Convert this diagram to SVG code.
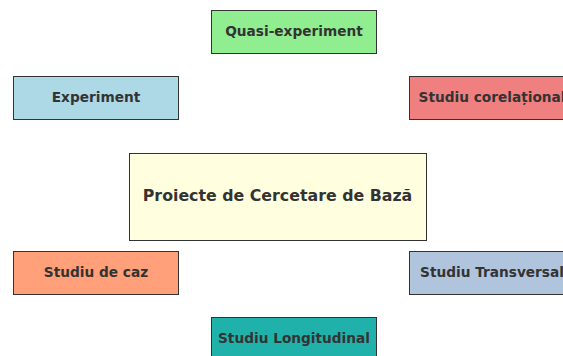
<svg xmlns="http://www.w3.org/2000/svg" width="563" height="356" viewBox="0 0 563 356">
<style>
.box{stroke:#333;stroke-width:1}
.lbl{font-family:"DejaVu Sans",sans-serif;font-weight:bold;font-size:13.7px;fill:#333;text-anchor:middle;dominant-baseline:central}
.main{font-size:15.8px}
</style>
<rect width="563" height="356" fill="#fff"/>
<g id="connectors"></g>
<g id="center"><rect class="box" x="129.5" y="153.5" width="297" height="87" fill="#ffffe0"/><text class="lbl main" x="277.5" y="195">Proiecte de Cercetare de Bază</text></g>
<g id="quasi"><rect class="box" x="211.5" y="10.5" width="165" height="43" fill="#90ee90"/><text class="lbl" x="294" y="31">Quasi-experiment</text></g>
<g id="experiment"><rect class="box" x="13.5" y="76.5" width="165" height="43" fill="#add8e6"/><text class="lbl" x="96" y="97">Experiment</text></g>
<g id="corelational"><rect class="box" x="409.5" y="76.5" width="165" height="43" fill="#f08080"/><text class="lbl" x="492" y="97">Studiu corelațional</text></g>
<g id="caz"><rect class="box" x="13.5" y="251.5" width="165" height="43" fill="#ffa07a"/><text class="lbl" x="96" y="272">Studiu de caz</text></g>
<g id="transversal"><rect class="box" x="409.5" y="251.5" width="165" height="43" fill="#b0c4de"/><text class="lbl" x="492" y="272">Studiu Transversal</text></g>
<g id="longitudinal"><rect class="box" x="211.5" y="317.5" width="165" height="43" fill="#20b2aa"/><text class="lbl" x="294" y="338">Studiu Longitudinal</text></g>
</svg>
